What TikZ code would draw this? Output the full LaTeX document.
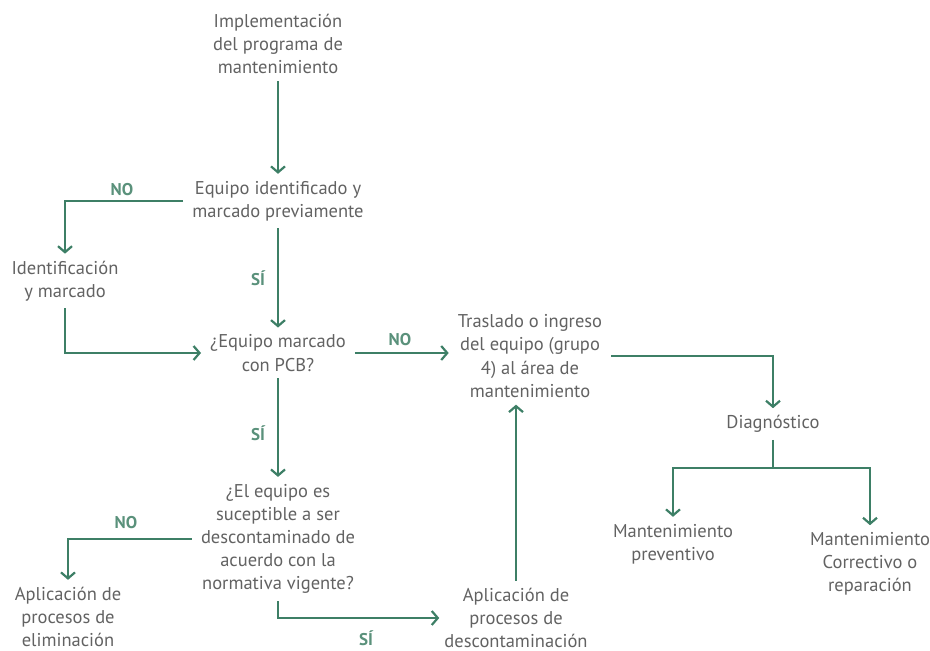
\documentclass[tikz,border=0pt]{standalone}
\usepackage{fontspec}
\setmainfont{PT Sans}
\usetikzlibrary{arrows.meta}
\definecolor{flowgreen}{HTML}{3D7F66}
\definecolor{lblgreen}{HTML}{5A917B}
\definecolor{txtgrey}{HTML}{626262}
\tikzset{
  txt/.style={align=center, text=txtgrey, inner xsep=9pt, inner ysep=7pt,
    font=\fontsize{18.5}{23.2}\selectfont},
  lbl/.style={text=lblgreen, inner sep=0pt,
    font=\fontsize{17}{18}\selectfont\bfseries},
  flow/.style={draw=flowgreen, line width=2.2pt,
    -{Straight Barb[length=6pt, width=14pt, line width=2.2pt]}},
  link/.style={draw=flowgreen, line width=2.2pt}
}
\begin{document}
\begin{tikzpicture}[x=1pt, y=-1pt]
  \useasboundingbox (0,0) rectangle (930,651);
  \draw
    (278,44) node[txt] (impl){Implementación\\del programa de\\mantenimiento}
    (278,201) node[txt] (equipo){Equipo identificado y\\marcado previamente}
    (65,281) node[txt] (ident){Identificación\\y marcado}
    (278,353) node[txt] (pcb){¿Equipo marcado\\con PCB?}
    (530,356) node[txt] (traslado){Traslado o ingreso\\del equipo (grupo\\4) al área de\\mantenimiento}
    (773,424) node[txt] (diag){Diagnóstico}
    (673,544) node[txt] (prev){Mantenimiento\\preventivo}
    (870,564) node[txt] (corr){Mantenimiento\\Correctivo o\\reparación}
    (278,539) node[txt] (susc){¿El equipo es\\suceptible a ser\\descontaminado de\\acuerdo con la\\normativa vigente?}
    (68,617) node[txt] (elim){Aplicación de\\procesos de\\eliminación}
    (516,618) node[txt, inner xsep=5pt] (desc){Aplicación de\\procesos de\\descontaminación};
  \draw
    (122,190) node[lbl] (no1){NO}
    (258,278) node[lbl] (si1){SÍ}
    (400,340) node[lbl] (no2){NO}
    (258,433) node[lbl] (si2){SÍ}
    (126,523) node[lbl] (no3){NO}
    (366,638) node[lbl] (si3){SÍ};
  \coordinate (split) at (773,468);
  \begin{scope}
    \draw[flow] (impl) -- (equipo);
    \draw[flow] (equipo.west) -| (ident.north);
    \draw[flow] (equipo) -- (pcb);
    \draw[flow] (ident.south) |- (pcb.west);
    \draw[flow] (pcb.east) -- (pcb.east -| traslado.west);
    \draw[flow] (traslado.east) -| (diag.north);
    \draw[link] (diag.south) -- (split);
    \draw[flow] (split) -| (prev.north);
    \draw[flow] (split) -| (corr.north);
    \draw[flow] (pcb) -- (susc);
    \draw[flow] (susc.west) -| (elim.north);
    \draw[flow] (susc.south) |- (desc.west);
    \draw[flow] (desc.north) -- (desc.north |- traslado.south);
  \end{scope}
\end{tikzpicture}
\end{document}
